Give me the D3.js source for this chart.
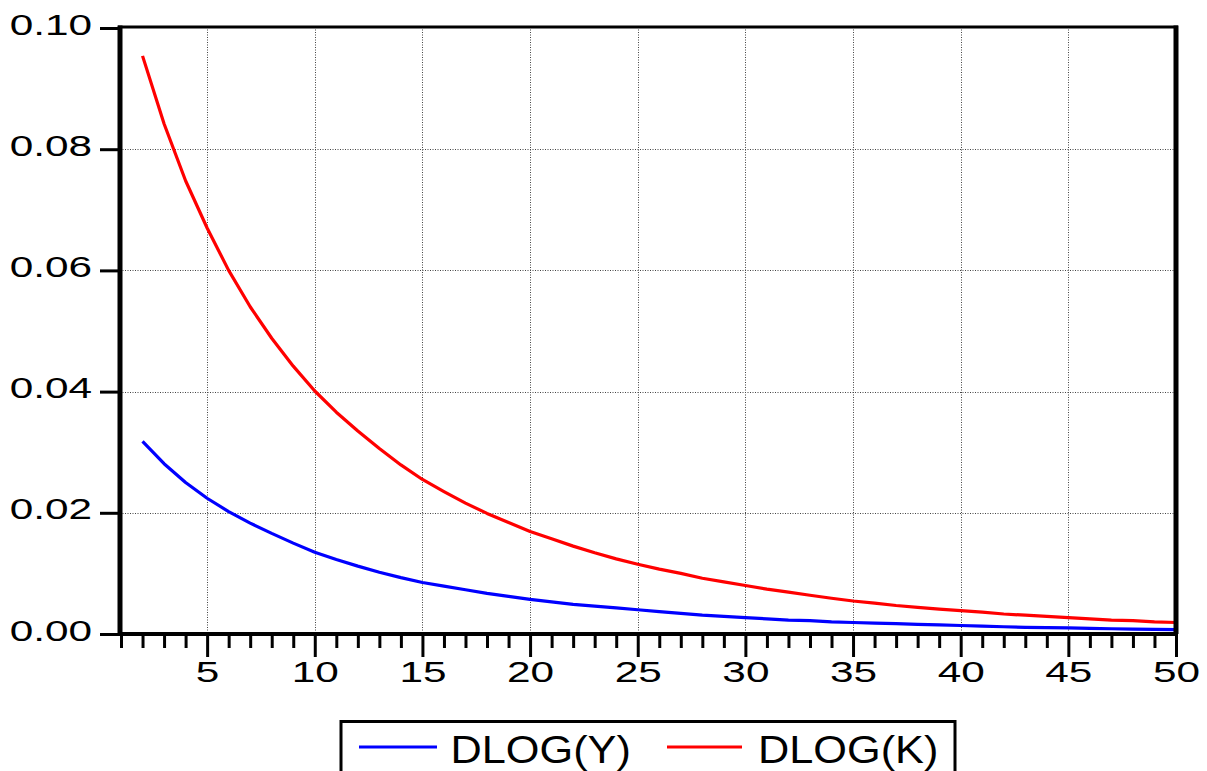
<!DOCTYPE html>
<html>
<head>
<meta charset="utf-8">
<script src="https://cdn.jsdelivr.net/npm/d3@7/dist/d3.min.js"></script>
<style>
  body { margin: 0; background: #fff; }
  svg { display: block; font-family: "Liberation Sans", Arial, sans-serif; }
</style>
</head>
<body>
<svg id="chart" width="1207" height="771"></svg>
<script>
"use strict";

// horizon (periods) 2..50
let periods = d3.range(2, 51);

// DLOG(Y)
let dlogY = [
  0.0318, 0.0281, 0.0250, 0.0224, 0.0202, 0.0183, 0.0166, 0.0150, 0.0135,
  0.0123, 0.0112, 0.0102, 0.0093, 0.0085, 0.0079, 0.0073, 0.0067, 0.0062, 0.0057,
  0.0053, 0.0049, 0.0046, 0.0043, 0.0040, 0.0037, 0.0034, 0.0031, 0.0029, 0.0027,
  0.0025, 0.0023, 0.0022, 0.0020, 0.0019, 0.0018, 0.0017, 0.0016, 0.0015, 0.0014,
  0.0013, 0.0012, 0.0011, 0.00105, 0.0010, 0.00093, 0.00087, 0.00081, 0.00076, 0.00071
];

// DLOG(K)
let dlogK = [
  0.0954, 0.0842, 0.0748, 0.0670, 0.0600, 0.0540, 0.0488, 0.0442, 0.0401,
  0.0366, 0.0335, 0.0306, 0.0279, 0.0255, 0.0235, 0.0216, 0.0199, 0.0184, 0.0169,
  0.0157, 0.0145, 0.0134, 0.0124, 0.0115, 0.0107, 0.0100, 0.0092, 0.0086, 0.0080,
  0.0074, 0.0069, 0.0064, 0.0059, 0.00545, 0.0051, 0.0047, 0.0044, 0.0041, 0.00385,
  0.0036, 0.0033, 0.0031, 0.0029, 0.0027, 0.0025, 0.0023, 0.0022, 0.0020, 0.0019
];

let yTicks = [0, 0.02, 0.04, 0.06, 0.08, 0.10];
let xMajor = [5, 10, 15, 20, 25, 30, 35, 40, 45, 50];
let xMinor = d3.range(1, 51);

let seriesList = [
  { label: "DLOG(Y)", values: dlogY, color: "#0000ff" },
  { label: "DLOG(K)", values: dlogK, color: "#ff0000" }
];

let svg = d3.select("#chart");

let fLeft = 120, fRight = 1176, fTop = 27, fBottom = 634;

let x = d3.scaleLinear().domain([1, 50]).range([121, 1176]);
let y = d3.scaleLinear().domain([0, 0.10]).range([634, 28]);

// grid
let grid = svg.append("g").attr("stroke", "#444").attr("stroke-width", 1).attr("stroke-dasharray", "1,1.5");
grid.selectAll(".vg").data(xMajor.filter(d => d < 50)).enter()
  .append("line")
  .attr("x1", d => Math.round(x(d)) + 0.5).attr("x2", d => Math.round(x(d)) + 0.5)
  .attr("y1", fTop).attr("y2", fBottom);
grid.selectAll(".hg").data(yTicks.filter(d => d > 0 && d < 0.1)).enter()
  .append("line")
  .attr("y1", d => Math.round(y(d)) + 0.5).attr("y2", d => Math.round(y(d)) + 0.5)
  .attr("x1", fLeft).attr("x2", fRight);

// curves
let line = d3.line()
  .x((d, i) => x(periods[i]))
  .y(d => y(d));

svg.selectAll(".series").data(seriesList).enter()
  .append("path")
  .attr("fill", "none")
  .attr("stroke", d => d.color)
  .attr("stroke-width", 3.2)
  .attr("stroke-linejoin", "round")
  .attr("d", d => line(d.values));

// frame
svg.append("line").attr("x1", fLeft - 2).attr("x2", fRight + 2).attr("y1", fTop).attr("y2", fTop)
  .attr("stroke", "#000").attr("stroke-width", 3);
svg.append("line").attr("x1", fLeft).attr("x2", fLeft).attr("y1", fTop - 1.5).attr("y2", fBottom)
  .attr("stroke", "#000").attr("stroke-width", 5);
svg.append("line").attr("x1", fRight).attr("x2", fRight).attr("y1", fTop - 1.5).attr("y2", fBottom)
  .attr("stroke", "#000").attr("stroke-width", 5);
svg.append("line").attr("x1", fLeft - 2).attr("x2", fRight + 2).attr("y1", fBottom).attr("y2", fBottom)
  .attr("stroke", "#000").attr("stroke-width", 4);

// y axis
let yAxis = svg.append("g")
  .attr("transform", "translate(118,0)")
  .call(d3.axisLeft(y).tickValues(yTicks).tickSize(18).tickFormat(d3.format(".2f")));
yAxis.select(".domain").remove();
yAxis.selectAll(".tick line").attr("stroke", "#000").attr("stroke-width", 3);
yAxis.selectAll(".tick text")
  .attr("x", null).attr("dy", null)
  .attr("transform", "translate(-26,6) scale(1.46,1)")
  .attr("text-anchor", "end")
  .attr("fill", "#000")
  .style("font-size", "29px")
  .style("font-family", "'Liberation Sans', Arial, sans-serif");

// x axis: minor ticks then major ticks with labels
let xMinorAxis = svg.append("g")
  .attr("transform", `translate(0,${fBottom})`)
  .call(d3.axisBottom(x).tickValues(xMinor.filter(d => d % 5 !== 0)).tickSize(14).tickFormat(""));
xMinorAxis.select(".domain").remove();
xMinorAxis.selectAll(".tick line").attr("stroke", "#000").attr("stroke-width", 3);

let xMajorAxis = svg.append("g")
  .attr("transform", `translate(0,${fBottom})`)
  .call(d3.axisBottom(x).tickValues(xMajor).tickSize(23).tickFormat(d3.format("d")));
xMajorAxis.select(".domain").remove();
xMajorAxis.selectAll(".tick line").attr("stroke", "#000").attr("stroke-width", 3);
xMajorAxis.selectAll(".tick text")
  .attr("y", null).attr("dy", null)
  .attr("transform", "translate(0,48) scale(1.46,1)")
  .attr("text-anchor", "middle")
  .attr("fill", "#000")
  .style("font-size", "29px")
  .style("font-family", "'Liberation Sans', Arial, sans-serif");

// legend
let legend = svg.append("g");
legend.append("rect")
  .attr("x", 341).attr("y", 721.5).attr("width", 614).attr("height", 70)
  .attr("fill", "#fff").attr("stroke", "#000").attr("stroke-width", 3);

let legendPos = [
  { lx1: 359, lx2: 437, tx: 450.5 },
  { lx1: 667, lx2: 742, tx: 758 }
];
let items = legend.selectAll(".item").data(seriesList).enter().append("g");
items.append("line")
  .attr("x1", (d, i) => legendPos[i].lx1).attr("x2", (d, i) => legendPos[i].lx2)
  .attr("y1", 747).attr("y2", 747)
  .attr("stroke", d => d.color).attr("stroke-width", 3);
items.append("text")
  .attr("transform", (d, i) => `translate(${legendPos[i].tx},763) scale(1.11,1)`)
  .attr("fill", "#000")
  .style("font-size", "39px")
  .text(d => d.label);
</script>
</body>
</html>
